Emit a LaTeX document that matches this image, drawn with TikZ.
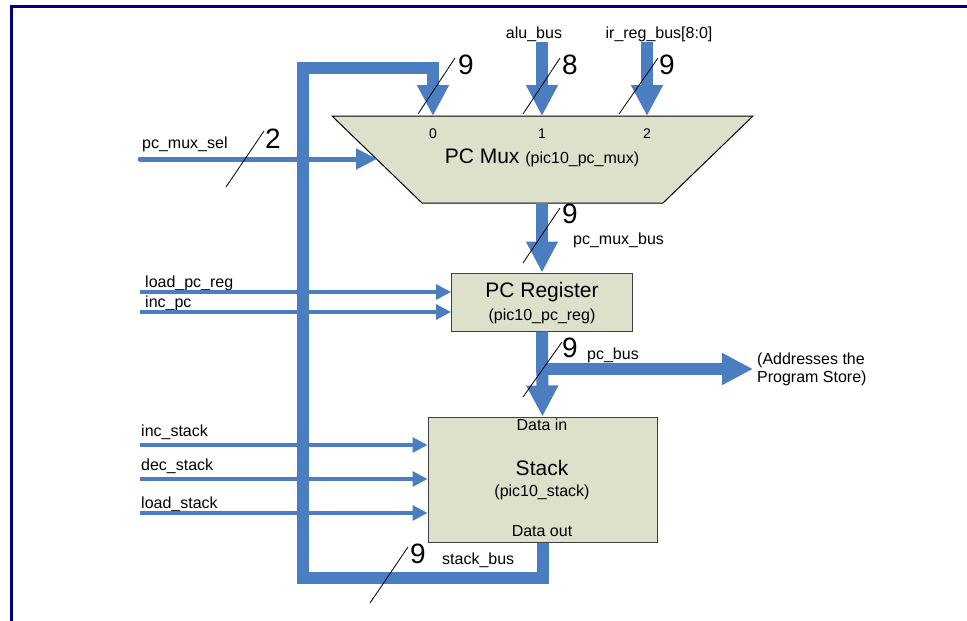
\documentclass[tikz,border=0pt]{standalone}
\usepackage{fontspec}
\setmainfont{Liberation Sans}
\usetikzlibrary{arrows.meta,positioning}
\definecolor{busblue}{RGB}{74,126,193}
\definecolor{boxfill}{RGB}{221,224,203}
\definecolor{framenavy}{RGB}{0,0,128}

\begin{document}
\begin{tikzpicture}[x=1pt,y=-1pt,
        bus/.style={draw=busblue,line width=12pt},
        bustip/.style={-{Triangle[width=30pt,length=31pt]}},
        sig/.style={draw=busblue,line width=3.2pt,-{Triangle[width=15pt,length=15pt]}},
        slash/.style={black,line width=0.8pt},
        blk/.style={draw=black!75,fill=boxfill,line width=1pt,inner sep=0pt},
        lbl/.style={inner sep=0pt,font=\fontsize{16}{18}\selectfont},
        big/.style={inner sep=0pt,font=\fontsize{21}{24}\selectfont},
        wnum/.style={inner sep=0pt,font=\fontsize{28}{30}\selectfont},
        port/.style={inner sep=0pt,font=\fontsize{14}{16}\selectfont}]
        \useasboundingbox (0,0) rectangle (967,621);
        \draw [framenavy,line width=2.6pt] (11.3,621) -- (11.3,6.2) -- (967,6.2);

        \draw [fill=boxfill,line width=1pt] (332,116) -- (753,116) -- (663,203) -- (422,203) -- cycle;
        \coordinate (m0) at (433,116);
        \coordinate (m1) at (542,116);
        \coordinate (m2) at (647,116);
        \coordinate (mout) at (542,203);
        \coordinate (msel) at (377,159);
        \node [port] (p0) at (433,134) {0};
        \node [port] (p1) at (542,134) {1};
        \node [port] (p2) at (647,134) {2};
        \node [big] (muxname) at (542,158) {PC Mux \fontsize{16}{18}\selectfont(pic10\_pc\_mux)};

        \node [blk,minimum width=181pt,minimum height=58pt] (pcreg) at (542,302) {};
        \node [big] (pcregname) at (542,292) {PC Register};
        \node [lbl] (pcregid) at (542,316) {(pic10\_pc\_reg)};

        \node [blk,minimum width=229pt,minimum height=125pt] (stack) at (542.5,479.5) {};
        \node [lbl] (datain) at (542,425) {Data in};
        \node [big] (stackname) at (542,468) {Stack};
        \node [lbl] (stackid) at (542,492) {(pic10\_stack)};
        \node [lbl] (dataout) at (542,531) {Data out};

        \node [lbl,anchor=base] (alulbl) at (534,38) {alu\_bus};
        \node [lbl,anchor=base] (irlbl) at (659,38) {ir\_reg\_bus[8:0]};
        \coordinate (alutop) at (542,42);
        \coordinate (irtop) at (647,42);
        \draw [bus,bustip] (alutop) -- (m1);
        \draw [bus,bustip] (irtop) -- (m2);
        \draw [bus,bustip] (stack.south) -- ++(0,35) -| (303,68) -| (m0);
        \draw [bus,bustip] (mout) -- (pcreg.north);
        \draw [bus,bustip] (pcreg.south) -- (stack.north);
        \node [lbl,anchor=west,align=left] (addr) at (757,369) {(Addresses the\\Program Store)};
        \draw [bus,bustip] (pcreg.south |- addr.west) -- ([xshift=-4pt]addr.west);

        \node [lbl,anchor=base west] (sellbl) at (142,148) {pc\_mux\_sel};
        \coordinate (ssel) at (140,159);
        \draw [draw=busblue,line width=5pt,line cap=round,-{Triangle[width=20pt,length=21pt]}] (ssel) -- (msel);

        \node [lbl,anchor=base west] (loadlbl) at (145,287) {load\_pc\_reg};
        \node [lbl,anchor=base west] (inclbl) at (145,307) {inc\_pc};
        \coordinate (sload) at (140,292);
        \coordinate (sinc) at (140,312);
        \draw [sig] (sload) -- (sload -| pcreg.west);
        \draw [sig] (sinc) -- (sinc -| pcreg.west);

        \node [lbl,anchor=base west] (incslbl) at (141,436) {inc\_stack};
        \node [lbl,anchor=base west] (decslbl) at (141,470) {dec\_stack};
        \node [lbl,anchor=base west] (loadslbl) at (141,508) {load\_stack};
        \coordinate (sincs) at (140,445);
        \coordinate (sdecs) at (140,479);
        \coordinate (sloads) at (140,513);
        \draw [sig] (sincs) -- (sincs -| stack.west);
        \draw [sig] (sdecs) -- (sdecs -| stack.west);
        \draw [sig] (sloads) -- (sloads -| stack.west);

        \draw [slash] (418,114) -- (455,58);
        \node [wnum] (w0) at (466,65) {9};
        \draw [slash] (523,114) -- (560,58);
        \node [wnum] (w1) at (570,65) {8};
        \draw [slash] (619,114) -- (658,58);
        \node [wnum] (w2) at (667,65) {9};
        \draw [slash] (226,187) -- (264,131);
        \node [wnum] (wsel) at (273,139) {2};
        \draw [slash] (523,263) -- (560,208);
        \node [wnum] (wmux) at (570,214) {9};
        \node [lbl,anchor=base west] (muxbuslbl) at (573,244) {pc\_mux\_bus};
        \draw [slash] (523,397) -- (562,342);
        \node [wnum] (wpc) at (570,348) {9};
        \node [lbl,anchor=base west] (pcbuslbl) at (587,359) {pc\_bus};
        \draw [slash] (370,603) -- (408,547);
        \node [wnum] (wstack) at (418,554) {9};
        \node [lbl,anchor=base west] (stackbuslbl) at (442,564) {stack\_bus};
\end{tikzpicture}
\end{document}
